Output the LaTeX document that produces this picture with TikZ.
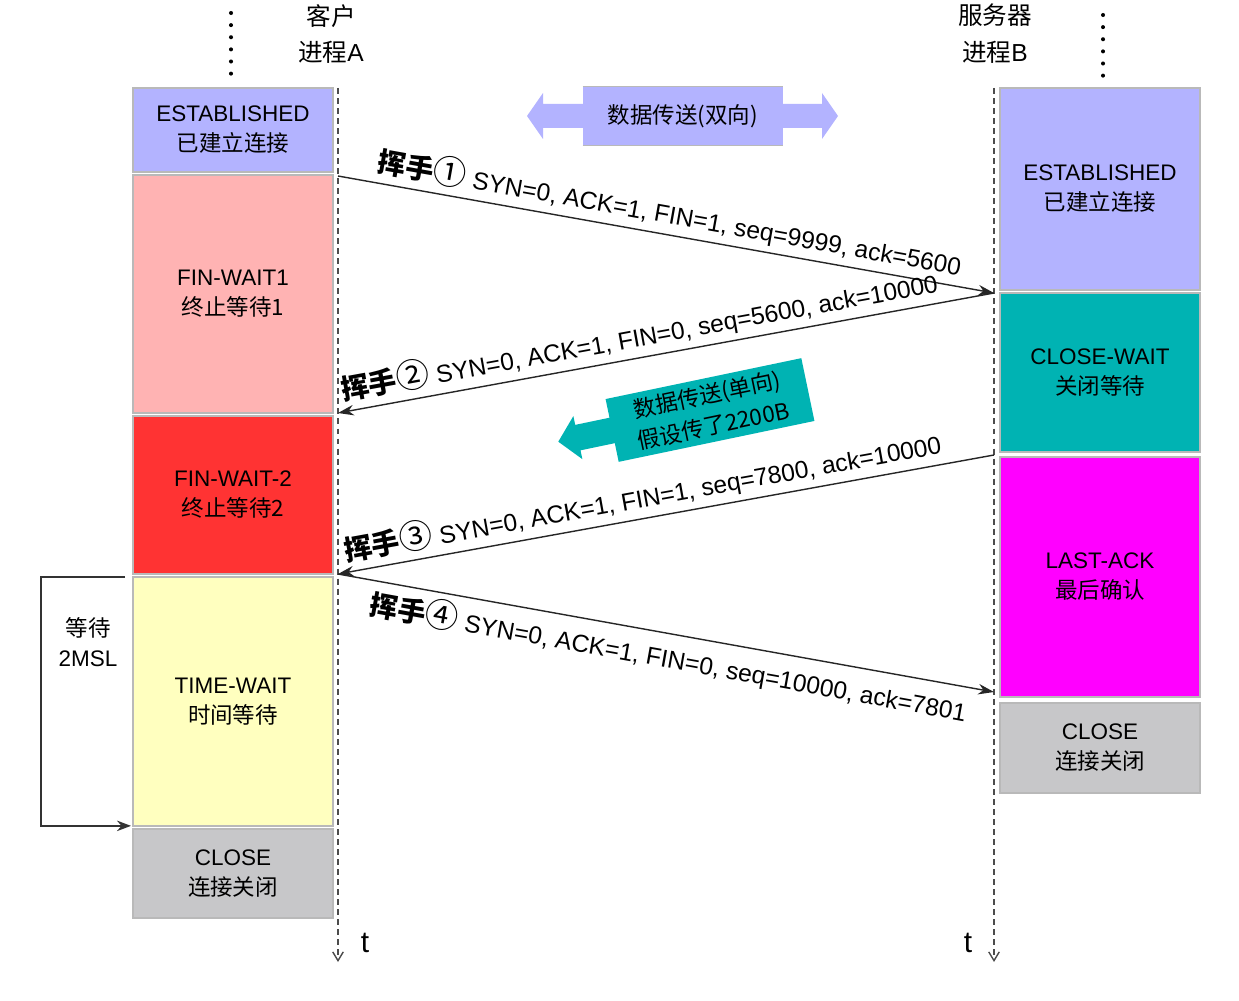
\documentclass[tikz,border=0pt]{standalone}
\usepackage{fontspec}
\setmainfont{Liberation Sans}
\newfontfamily\cjk{Noto Sans CJK SC}
\usetikzlibrary{positioning,arrows.meta}
\definecolor{estblue}{HTML}{B3B3FF}
\definecolor{finpink}{HTML}{FFB3B3}
\definecolor{finred}{HTML}{FF3333}
\definecolor{waityel}{HTML}{FFFFBF}
\definecolor{closegray}{HTML}{C7C7C9}
\definecolor{cwteal}{HTML}{00B3B3}
\definecolor{lastmag}{HTML}{FF00FF}
\newcommand{\zh}[1]{{\cjk #1}}
\newcommand{\boxfont}{\fontsize{12.8}{17}\selectfont}
\newcommand{\hs}[1]{{\cjk\fontsize{16}{18}\selectfont{\bfseries 挥手}{\fontsize{19}{19}\selectfont #1}}}

\begin{document}
\begin{tikzpicture}[
          x=0.02cm, y=-0.02cm,
          state/.style={draw=gray!55,line width=0.8pt,minimum width=4cm,inner sep=0pt,outer sep=0pt,align=center,font=\boxfont},
          timeline/.style={draw=black!70,line width=0.8pt,dash pattern=on 3.4pt off 2.3pt,-{Straight Barb[length=5pt,width=6pt]}},
          msg/.style={draw=black!85,line width=0.8pt,-{Stealth[length=9pt,width=6pt]}},
          lbl/.style={sloped,font=\fontsize{14}{16}\selectfont,inner sep=3pt},
          dots/.style={line width=2.3pt,line cap=round,dash pattern=on 0pt off 6.9pt},
          bracket/.style={draw=black!80,line width=0.8pt,-{Stealth[length=8pt,width=6pt]}}
        ]
        \useasboundingbox (0,0) rectangle (1239,1000);
        % headers
        \node[font=\fontsize{14}{21}\selectfont,align=center] (cli) at (331,34) {\zh{客户}\\\zh{进程}A};
        \node[font=\fontsize{14}{21}\selectfont,align=center] (srv) at (995,34) {\zh{服务器}\\\zh{进程}B};
        \draw[dots] (231,13) -- (231,76);
        \draw[dots] (1103,15) -- (1103,78);
        % client states
        \node[state,fill=estblue,minimum height=1.68cm,anchor=north west] (estA) at (133,88) {ESTABLISHED\\\zh{已建立连接}};
        \node[state,fill=finpink,minimum height=4.76cm,below=0.06cm of estA] (fw1A) {FIN-WAIT1\\\zh{终止等待1}};
        \node[state,fill=finred,minimum height=3.16cm,below=0.06cm of fw1A] (fw2A) {FIN-WAIT-2\\\zh{终止等待2}};
        \node[state,fill=waityel,minimum height=4.98cm,below=0.06cm of fw2A] (twA) {TIME-WAIT\\\zh{时间等待}};
        \node[state,fill=closegray,minimum height=1.78cm,below=0.06cm of twA] (clA) {CLOSE\\\zh{连接关闭}};
        % server states
        \node[state,fill=estblue,minimum height=4.04cm,anchor=north west] (estB) at (1000,88) {ESTABLISHED\\\zh{已建立连接}};
        \node[state,fill=cwteal,minimum height=3.18cm,below=0.06cm of estB] (cwB) {CLOSE-WAIT\\\zh{关闭等待}};
        \node[state,fill=lastmag,minimum height=4.8cm,below=0.1cm of cwB] (laB) {LAST-ACK\\\zh{最后确认}};
        \node[state,fill=closegray,minimum height=1.8cm,below=0.12cm of laB] (clB) {CLOSE\\\zh{连接关闭}};
        % time axes
        \coordinate (tA0) at (338,88);
        \coordinate (tA1) at (338,962);
        \coordinate (tB0) at (994,88);
        \coordinate (tB1) at (994,962);
        \draw[timeline] (tA0) -- (tA1);
        \draw[timeline] (tB0) -- (tB1);
        \node[font=\fontsize{17}{17}\selectfont] (tA) at (365,943) {t};
        \node[font=\fontsize{17}{17}\selectfont] (tB) at (968,943) {t};
        % data transfer
        \fill[estblue] (527,116) -- (543,93) -- (543,104) -- (822,104) -- (822,93) -- (838,116)
          -- (822,139) -- (822,128) -- (543,128) -- (543,139) -- cycle;
        \node[fill=estblue,minimum width=4cm,minimum height=1.16cm,font=\boxfont] (dataAB) at (683,116) {\zh{数据传送(双向)}};
        \draw[gray!55,line width=0.8pt] (dataAB.north west) -- (dataAB.north east) (dataAB.south west) -- (dataAB.south east);
        \begin{scope}[shift={(710,410)},rotate=11.8]
          \fill[cwteal] (-155,0) -- (-135,-22) -- (-135,-13) -- (-95,-13) -- (-95,13) -- (-135,13) -- (-135,22) -- cycle;
          \node[fill=cwteal,minimum width=4cm,minimum height=1.16cm,transform shape,align=center,font=\fontsize{12.8}{18}\selectfont] (dataBA) at (0,0) {\zh{数据传送(单向)}\\\zh{假设传了2200B}};
        \end{scope}
        % handshakes
        \coordinate (m1s) at (338,176);
        \coordinate (m1e) at (994,293);
        \coordinate (m2e) at (338,413);
        \coordinate (m3s) at (994,455);
        \coordinate (m3e) at (338,574);
        \coordinate (m4e) at (994,692);
        \draw[msg] (m1s) -- node[lbl,above] {\hs{①} SYN=0, ACK=1, FIN=1, seq=9999, ack=5600} (m1e);
        \draw[msg] (m1e) -- node[lbl,above,pos=0.535] {\hs{②} SYN=0, ACK=1, FIN=0, seq=5600, ack=10000} (m2e);
        \draw[msg] (m3s) -- node[lbl,above,pos=0.53] {\hs{③} SYN=0, ACK=1, FIN=1, seq=7800, ack=10000} (m3e);
        \draw[msg] (m3e) -- node[lbl,below,pos=0.51] {\hs{④} SYN=0, ACK=1, FIN=0, seq=10000, ack=7801} (m4e);
        % 2MSL wait
        \draw[bracket] ([xshift=-0.16cm]twA.north west) -- ++(-84,0) |- ([xshift=-0.04cm]twA.south west);
        \node[font=\boxfont,align=center] (wait) at (88,642) {\zh{等待}\\2MSL};
      \end{tikzpicture}
\end{document}
